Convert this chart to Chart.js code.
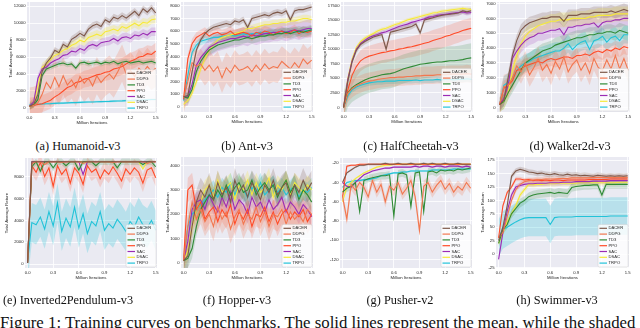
<!DOCTYPE html>
<html>
<head>
<meta charset="utf-8">
<script src="https://cdn.jsdelivr.net/npm/chart.js@4.4.0/dist/chart.umd.min.js"></script>
<style>
  body { margin: 0; width: 640px; height: 328px; background: #fff; overflow: hidden; position: relative; }
  canvas { position: absolute; }
  .cap { position: absolute; font-family: "Liberation Serif", "Times New Roman", serif; font-size: 12.3px; color: #111; white-space: nowrap; transform: translateX(-50%); line-height: 12px; }
  .figcap { position: absolute; left: 0; top: 314px; font-family: "Liberation Serif", "Times New Roman", serif; font-size: 16.8px; color: #111; white-space: nowrap; line-height: 17px; }
</style>
</head>
<body>
<div class="figcap">Figure 1: Training curves on benchmarks. The solid lines represent the mean, while the shaded</div>
<script>
// ---- shared axes / legend data ----
const iters = [0, 0.05, 0.1, 0.15, 0.2, 0.25, 0.3, 0.35, 0.4, 0.45, 0.5, 0.55, 0.6, 0.65, 0.7, 0.75,
  0.8, 0.85, 0.9, 0.95, 1.0, 1.05, 1.1, 1.15, 1.2, 1.25, 1.3, 1.35, 1.4, 1.45, 1.5];
const xTicks = [0, 0.3, 0.6, 0.9, 1.2, 1.5];
const algos = ["DACER", "DDPG", "TD3", "PPO", "SAC", "DSAC", "TRPO"];

// ---- (a) Humanoid-v3 ----
const humanoidDACER = [200, 450, 1600, 4300, 5300, 5900, 6800, 6500, 7500, 7200, 8100, 8400, 8800, 8500, 9300, 9700, 9900, 9600, 10400, 10100, 10700, 10500, 10900, 10600, 11000, 11400, 10900, 11700, 11300, 11800, 11200];
const humanoidDDPG = [200, 300, 600, 1600, 3000, 2300, 3600, 2500, 3800, 2700, 3300, 2400, 3700, 2900, 3500, 2600, 3800, 3000, 3600, 4000, 3400, 4300, 5300, 4000, 4400, 3700, 4700, 4200, 4900, 4300, 4700];
const humanoidTD3 = [200, 300, 1000, 3800, 4600, 4800, 5000, 5200, 5300, 5100, 5200, 4700, 5300, 5400, 5200, 5300, 5400, 5200, 5400, 5300, 5500, 5200, 5400, 5500, 5300, 5400, 5500, 5300, 5400, 5500, 5300];
const humanoidPPO = [200, 300, 400, 500, 700, 900, 1300, 1600, 2000, 2400, 2600, 3000, 3100, 3400, 3500, 3700, 3900, 4000, 4200, 4300, 4600, 4700, 4900, 5200, 5500, 5700, 6000, 6100, 6400, 6300, 6700];
const humanoidSAC = [200, 700, 3500, 4600, 4800, 5300, 5600, 5800, 6200, 6300, 6700, 6600, 7000, 6800, 7300, 7500, 7300, 7700, 7800, 7900, 8200, 7900, 8300, 8400, 8200, 8600, 8500, 8800, 8600, 9000, 9000];
const humanoidDSAC = [200, 500, 2600, 4800, 5200, 5700, 6200, 6400, 6800, 7000, 7400, 7600, 8000, 7800, 8300, 8500, 8700, 8500, 9000, 9100, 9300, 9100, 9600, 9400, 9700, 10000, 9700, 10100, 10000, 10400, 10500];
const humanoidTRPO = [400, 420, 440, 470, 500, 510, 540, 560, 570, 600, 620, 630, 650, 680, 690, 700, 730, 740, 760, 770, 800, 820, 830, 860, 880, 900, 910, 940, 960, 990, 1000];
const humanoidSpread = [400, 2200, 300, 1000, 500, 500, 120];
const humanoidTicks = [0, 2000, 4000, 6000, 8000, 10000, 12000];

// ---- (b) Ant-v3 ----
const antDACER = [800, 900, 2800, 4500, 5300, 5800, 6100, 6300, 6400, 6500, 6600, 6500, 6800, 6700, 6900, 6300, 7000, 7100, 7200, 7300, 7200, 7400, 7500, 7400, 7600, 6900, 7600, 7700, 7700, 7800, 7900];
const antDDPG = [700, 2000, 3500, 3200, 3400, 2900, 3300, 2800, 3200, 2300, 3100, 2700, 3300, 2900, 3000, 3200, 2800, 3300, 2900, 3400, 3000, 3200, 3100, 3600, 3300, 3000, 3500, 3100, 3800, 3400, 3700];
const antTD3 = [800, 700, 1400, 2800, 3600, 4100, 4500, 4700, 4900, 5000, 5100, 5200, 5300, 5300, 5400, 5500, 5400, 5500, 5600, 5600, 5700, 5700, 5800, 5800, 5900, 5800, 5900, 6000, 5900, 6000, 6100];
const antPPO = [600, 3800, 5000, 5500, 5700, 5900, 5600, 5800, 5900, 5700, 5800, 6000, 5700, 5800, 5900, 5800, 5600, 5900, 5800, 6000, 5900, 5700, 5900, 6000, 5800, 5900, 6100, 5800, 6000, 5900, 6000];
const antSAC = [800, 800, 1800, 3300, 3900, 4300, 4700, 4900, 5100, 5200, 5300, 5400, 5400, 5500, 5600, 5500, 5700, 5600, 5700, 5800, 5800, 5900, 5900, 6000, 5900, 6000, 6100, 6000, 6100, 6200, 6200];
const antDSAC = [200, 500, 1100, 2000, 3000, 3800, 4500, 4900, 5300, 5500, 5600, 5700, 5800, 5900, 6000, 6200, 6200, 6300, 6400, 6500, 6500, 6600, 6600, 6700, 6700, 6800, 6800, 6900, 7000, 7000, 6900];
const antTRPO = [500, 2500, 4300, 4900, 5200, 5300, 5400, 5500, 5500, 5600, 5600, 5700, 5600, 5700, 5800, 5700, 5800, 5800, 5900, 5800, 5900, 5900, 5800, 6000, 5900, 6000, 6000, 5900, 6100, 6000, 6100];
const antSpread = [250, 1200, 400, 400, 700, 300, 300];
const antTicks = [0, 1000, 2000, 3000, 4000, 5000, 6000, 7000, 8000];

// ---- (c) HalfCheetah-v3 ----
const cheetahDACER = [0, 4500, 7800, 9800, 10800, 11300, 11700, 12100, 12300, 12500, 10000, 12900, 13100, 13300, 13500, 13700, 13900, 14300, 12800, 15000, 15200, 15400, 15600, 15800, 15900, 16000, 16100, 16200, 16600, 16400, 16600];
const cheetahDDPG = [0, 2400, 3200, 3700, 4000, 4300, 4500, 4600, 4800, 4900, 5000, 5100, 5100, 5200, 5200, 5300, 5300, 5400, 5400, 5500, 5500, 5500, 5600, 5600, 5600, 5700, 5700, 5700, 5700, 5800, 5700];
const cheetahTD3 = [0, 2500, 3400, 3900, 4300, 4700, 5000, 5200, 5400, 5600, 5700, 5800, 6000, 6300, 6600, 6800, 7000, 7200, 7400, 7500, 7600, 7700, 7800, 7800, 7900, 8000, 8000, 8100, 8200, 8400, 8500];
const cheetahPPO = [0, 3000, 5500, 7000, 8000, 8500, 8800, 9000, 9200, 9400, 9500, 9700, 9800, 10000, 10100, 10300, 10400, 10600, 10800, 11000, 11200, 11500, 11700, 11900, 12200, 12400, 12700, 12900, 13200, 13400, 13600];
const cheetahSAC = [0, 4800, 8000, 10000, 11000, 11500, 12000, 12300, 12500, 12800, 13000, 13300, 13600, 13900, 14100, 14300, 14600, 14800, 15000, 15200, 15500, 15600, 15800, 15900, 16000, 16100, 16200, 16300, 16400, 16200, 16300];
const cheetahDSAC = [0, 5000, 8300, 10300, 11300, 11900, 12300, 12700, 13100, 13400, 13600, 13900, 14200, 14400, 14700, 15000, 15200, 15400, 15600, 15800, 16000, 16200, 16300, 16500, 16600, 16700, 16800, 16900, 17000, 16900, 16800];
const cheetahTRPO = [0, 2000, 3000, 3500, 3800, 4000, 4200, 4300, 4400, 4400, 4500, 4500, 4500, 4600, 4600, 4600, 4600, 4700, 4600, 4700, 4700, 4700, 4800, 4700, 4800, 4800, 4700, 4800, 4800, 4900, 4800];
const cheetahSpread = [500, 1500, 2500, 1800, 400, 300, 500];
const cheetahTicks = [0, 2500, 5000, 7500, 10000, 12500, 15000, 17500];

// ---- (d) Walker2d-v3 ----
const walkerDACER = [200, 500, 2000, 3500, 4500, 5200, 5500, 5700, 5800, 5900, 6000, 6000, 6100, 6100, 6100, 5800, 6200, 6200, 6200, 6300, 6300, 6300, 6400, 6400, 6400, 6400, 6500, 6400, 6500, 6600, 6500];
const walkerDDPG = [200, 1400, 1500, 2000, 2800, 2400, 3000, 2200, 2700, 3300, 2500, 2900, 2300, 3100, 2600, 3400, 2400, 2900, 3200, 2500, 3000, 2300, 3300, 2700, 2500, 3200, 2600, 3500, 2600, 3300, 2500];
const walkerTD3 = [200, 400, 1000, 1500, 2000, 2500, 3000, 3200, 3400, 3600, 3800, 3900, 4000, 4200, 4300, 4400, 4500, 4600, 4700, 4700, 4800, 4900, 4900, 5000, 5000, 5100, 5100, 5000, 5200, 5100, 5000];
const walkerPPO = [200, 1300, 1500, 1800, 2500, 2600, 2800, 2900, 3000, 3100, 3000, 3200, 3300, 3200, 3300, 3400, 3400, 3300, 3500, 3500, 3600, 3500, 3700, 3800, 3700, 3900, 3800, 4000, 3900, 4100, 4000];
const walkerSAC = [200, 600, 1500, 3300, 3800, 4200, 4500, 4700, 4800, 5000, 5000, 5100, 5200, 5200, 5300, 4900, 5400, 5400, 5500, 5500, 5600, 5600, 5700, 5400, 5700, 5800, 5800, 5900, 5900, 6000, 6000];
const walkerDSAC = [200, 400, 1000, 2500, 3500, 4300, 4800, 5100, 5300, 5500, 5600, 5700, 5800, 5800, 5900, 5900, 5900, 6000, 6000, 6000, 6000, 6100, 6100, 6200, 6200, 6200, 6200, 6300, 6300, 6300, 6300];
const walkerTRPO = [200, 1500, 1700, 2000, 2500, 2800, 3000, 3100, 3300, 3400, 3500, 3600, 3700, 3800, 3800, 4000, 4300, 3900, 4200, 4400, 4500, 3900, 4500, 4600, 4800, 4400, 4700, 4800, 4500, 4900, 4900];
const walkerSpread = [400, 800, 500, 500, 500, 500, 600];
const walkerTicks = [0, 1000, 2000, 3000, 4000, 5000, 6000, 7000];

// ---- (e) Inverted2Pendulum-v3 ----
const pendDACER = [100, 9360, 9360, 9360, 9360, 9360, 9360, 9360, 9360, 9360, 9360, 9360, 9360, 9360, 9360, 9360, 9360, 9360, 9360, 9360, 9360, 9360, 9360, 9360, 9360, 9360, 9360, 9360, 9360, 9360, 9360];
const pendDDPG = [100, 9200, 9360, 9360, 9100, 9360, 9360, 9360, 9300, 9360, 9360, 9360, 9360, 9200, 9360, 9360, 9360, 9360, 9360, 9360, 9300, 9360, 9360, 9360, 9360, 9360, 9360, 9360, 9200, 9360, 9360];
const pendTD3 = [100, 8900, 9360, 8500, 9360, 9360, 8800, 9360, 9360, 9000, 9360, 9360, 8600, 9360, 9360, 9360, 9000, 9360, 9360, 9360, 9360, 8800, 9360, 9360, 9360, 9360, 9360, 9100, 9360, 9360, 8900];
const pendPPO = [100, 9000, 8400, 9300, 8000, 8800, 7100, 9000, 8200, 8700, 7400, 8800, 8300, 7300, 9000, 8400, 8700, 7800, 8600, 8200, 8900, 8300, 7600, 8700, 8200, 8800, 8400, 7400, 8600, 8800, 7900];
const pendSAC = [100, 9360, 9360, 9360, 9360, 9360, 9360, 9360, 9360, 9360, 9360, 9360, 9360, 8200, 9360, 9360, 9360, 9360, 9360, 9360, 9360, 9360, 9360, 9360, 9360, 9360, 9360, 9360, 9360, 9360, 9360];
const pendDSAC = [100, 9360, 9360, 9360, 9360, 9360, 9360, 9360, 9360, 9360, 9360, 9360, 9360, 9360, 9360, 9360, 9360, 9360, 9360, 9360, 9360, 9360, 9360, 9360, 9360, 9360, 9360, 8700, 9360, 9360, 9360];
const pendTRPO = [200, 3800, 3600, 4300, 3200, 4800, 3500, 5600, 3000, 4200, 3400, 5200, 3300, 4600, 2800, 3900, 3500, 4800, 3100, 3700, 3300, 4100, 3600, 3000, 3900, 3400, 4300, 3600, 3300, 4000, 3100];
const pendSpread = [0, 100, 300, 800, 100, 100, 1800];
const pendTicks = [0, 2000, 4000, 6000, 8000];

// ---- (f) Hopper-v3 ----
const hopperDACER = [100, 300, 1500, 2500, 3000, 2700, 3200, 2600, 3300, 2800, 3100, 2500, 3400, 2900, 3200, 2700, 3300, 3000, 2600, 3200, 2900, 3400, 2800, 3100, 3300, 2700, 3200, 2900, 3400, 3000, 3300];
const hopperDDPG = [100, 1500, 2500, 1800, 2200, 1700, 2000, 1500, 2300, 1800, 2100, 1400, 1900, 2200, 1600, 2000, 1800, 2300, 1700, 2100, 1500, 2000, 1900, 2200, 1600, 2100, 1800, 2000, 1700, 2200, 2000];
const hopperTD3 = [100, 200, 600, 1500, 2200, 2500, 2800, 2600, 3000, 2700, 3200, 2800, 3100, 3300, 2900, 3000, 3400, 2800, 3100, 3300, 3000, 3200, 2700, 3100, 3400, 2900, 3200, 2600, 3000, 2800, 2500];
const hopperPPO = [100, 3000, 3200, 2200, 2500, 1800, 2100, 2300, 1700, 2200, 1900, 2400, 1600, 2100, 1800, 2200, 1500, 2000, 1900, 2300, 1700, 2100, 1600, 2000, 2200, 1800, 2100, 1900, 2200, 1700, 2000];
const hopperSAC = [100, 900, 2200, 2500, 2600, 2200, 2800, 2400, 2100, 2700, 2300, 2900, 2200, 2600, 2400, 2000, 2700, 2300, 2500, 2100, 2600, 2200, 2400, 2700, 2100, 2500, 2300, 2000, 2400, 2200, 1900];
const hopperDSAC = [100, 500, 1500, 2200, 2500, 3000, 3200, 2700, 3400, 2900, 3100, 3300, 2600, 3200, 3000, 3400, 2800, 3300, 2900, 3100, 3500, 2700, 3200, 3000, 3400, 2800, 3300, 3100, 2900, 3200, 3000];
const hopperTRPO = [100, 1500, 2000, 2200, 2400, 2600, 2800, 3000, 2700, 3100, 2900, 3300, 2800, 3200, 3000, 2700, 3100, 2900, 3300, 2800, 3000, 3200, 2900, 3100, 2800, 3000, 3200, 2700, 3000, 2900, 3100];
const hopperSpread = [500, 600, 400, 500, 400, 400, 400];
const hopperTicks = [0, 1000, 2000, 3000, 4000];

// ---- (g) Pusher-v2 ----
const pusherDACER = [-40, -30, -27, -24, -22, -22, -21, -21, -21, -21, -20, -21, -21, -20, -21, -21, -20, -21, -21, -20, -21, -20, -21, -21, -20, -21, -21, -20, -21, -21, -21];
const pusherDDPG = [-55, -78, -42, -48, -40, -45, -55, -38, -50, -42, -60, -44, -48, -40, -52, -46, -38, -55, -90, -44, -40, -50, -43, -38, -47, -41, -50, -44, -48, -40, -46];
const pusherTD3 = [-50, -46, -44, -40, -70, -38, -36, -35, -34, -33, -33, -32, -75, -31, -30, -32, -65, -30, -29, -70, -29, -28, -30, -27, -28, -27, -28, -26, -27, -26, -25];
const pusherPPO = [-55, -23, -22, -22, -21, -21, -21, -21, -21, -21, -21, -21, -21, -21, -21, -21, -21, -21, -21, -21, -21, -21, -21, -21, -21, -21, -21, -21, -21, -21, -21];
const pusherSAC = [-40, -44, -45, -40, -36, -32, -30, -28, -27, -26, -25, -25, -24, -24, -24, -24, -24, -23, -24, -23, -23, -24, -23, -23, -24, -23, -23, -23, -24, -23, -24];
const pusherDSAC = [-60, -45, -40, -36, -33, -30, -28, -26, -24, -23, -22, -22, -21, -21, -21, -21, -21, -21, -21, -21, -21, -21, -21, -21, -21, -21, -21, -21, -21, -21, -21];
const pusherTRPO = [-45, -40, -39, -38, -38, -37, -37, -36, -35, -33, -32, -31, -30, -30, -29, -29, -28, -28, -28, -28, -28, -27, -27, -27, -27, -27, -26, -26, -26, -26, -26];
const pusherSpread = [1, 6, 4, 1, 1, 1, 1];
const pusherTicks = [-120, -100, -80, -60, -40, -20];

// ---- (h) Swimmer-v3 ----
const swimmerDACER = [25, 50, 90, 145, 155, 158, 156, 153, 152, 150, 151, 149, 148, 150, 148, 147, 149, 147, 148, 146, 147, 146, 145, 147, 146, 145, 146, 145, 146, 145, 146];
const swimmerDDPG = [30, 40, 70, 100, 120, 130, 135, 137, 138, 139, 139, 140, 140, 140, 141, 141, 141, 142, 142, 142, 142, 142, 143, 143, 143, 143, 143, 143, 143, 143, 143];
const swimmerTD3 = [20, 45, 55, 75, 85, 95, 100, 107, 110, 112, 113, 114, 115, 113, 115, 114, 113, 124, 126, 127, 128, 128, 129, 129, 110, 130, 130, 130, 130, 130, 130];
const swimmerPPO = [30, 90, 115, 125, 140, 140, 138, 139, 137, 138, 137, 138, 137, 138, 138, 137, 138, 138, 138, 138, 138, 139, 139, 139, 139, 139, 140, 140, 140, 140, 140];
const swimmerSAC = [-10, 40, 80, 110, 125, 128, 130, 131, 131, 132, 132, 132, 133, 133, 133, 134, 134, 134, 135, 135, 135, 135, 136, 136, 136, 136, 137, 137, 137, 137, 137];
const swimmerDSAC = [20, 40, 60, 75, 90, 110, 120, 130, 129, 130, 130, 131, 131, 131, 132, 132, 132, 132, 132, 133, 133, 133, 133, 133, 133, 133, 133, 133, 134, 134, 134];
const swimmerTRPO = [30, 45, 50, 55, 60, 64, 67, 68, 68, 68, 68, 68, 55, 68, 69, 69, 69, 69, 70, 70, 70, 70, 70, 70, 70, 70, 71, 71, 71, 71, 71];
const swimmerSpread = [5, 5, 8, 4, 5, 5, 35];
const swimmerTicks = [-25, 0, 25, 50, 75, 100, 125, 150, 175];

// ---- styling ----
const colors = ["#7d5849", "#f2774f", "#2f8a35", "#ff4b28", "#9b2cb5", "#f6e93a", "#22c3d8"];
const bandColors = ["rgba(125,88,73,0.22)", "rgba(242,119,79,0.22)", "rgba(47,138,53,0.18)", "rgba(255,75,40,0.18)",
  "rgba(155,44,181,0.18)", "rgba(246,233,58,0.25)", "rgba(34,195,216,0.25)"];
const tickFont = { family: "'Liberation Sans', Arial, sans-serif", size: 4.2 };
const textColor = "#262626";

const panels = [
  { cap: "(a) Humanoid-v3", capX: 78, capY: 140, series: [humanoidDACER, humanoidDDPG, humanoidTD3, humanoidPPO, humanoidSAC, humanoidDSAC, humanoidTRPO],
    spread: humanoidSpread, yTicks: humanoidTicks, yMin: -600, yMax: 12500, left: 0.5, top: 0, plotRight: 156.5, titleOff: 9.5, padTop: 2, h: 128 },
  { cap: "(b) Ant-v3", capX: 247, capY: 140, series: [antDACER, antDDPG, antTD3, antPPO, antSAC, antDSAC, antTRPO],
    spread: antSpread, yTicks: antTicks, yMin: -400, yMax: 8300, left: 155, top: 0, plotRight: 313, titleOff: 12.3, padTop: 2, h: 127 },
  { cap: "(c) HalfCheetah-v3", capX: 411, capY: 140, series: [cheetahDACER, cheetahDDPG, cheetahTD3, cheetahPPO, cheetahSAC, cheetahDSAC, cheetahTRPO],
    spread: cheetahSpread, yTicks: cheetahTicks, yMin: -800, yMax: 18100, left: 315, top: 0, plotRight: 472.5, titleOff: 10, padTop: 2, h: 127 },
  { cap: "(d) Walker2d-v3", capX: 570, capY: 140, series: [walkerDACER, walkerDDPG, walkerTD3, walkerPPO, walkerSAC, walkerDSAC, walkerTRPO],
    spread: walkerSpread, yTicks: walkerTicks, yMin: -300, yMax: 7100, left: 471, top: 0, plotRight: 629.5, titleOff: 11.7, padTop: 2, h: 127 },
  { cap: "(e) Inverted2Pendulum-v3", capX: 68, capY: 294, series: [pendDACER, pendDDPG, pendTD3, pendPPO, pendSAC, pendDSAC, pendTRPO],
    spread: pendSpread, yTicks: pendTicks, yMin: -350, yMax: 9700, left: -1, top: 150, plotRight: 157, titleOff: 7.7, padTop: 8, h: 133 },
  { cap: "(f) Hopper-v3", capX: 237, capY: 294, series: [hopperDACER, hopperDDPG, hopperTD3, hopperPPO, hopperSAC, hopperDSAC, hopperTRPO],
    spread: hopperSpread, yTicks: hopperTicks, yMin: -200, yMax: 4350, left: 155, top: 150, plotRight: 313, titleOff: 13.3, padTop: 7, h: 133 },
  { cap: "(g) Pusher-v2", capX: 400, capY: 294, series: [pusherDACER, pusherDDPG, pusherTD3, pusherPPO, pusherSAC, pusherDSAC, pusherTRPO],
    spread: pusherSpread, yTicks: pusherTicks, yMin: -129, yMax: -14.5, left: 314, top: 150, plotRight: 472, titleOff: 11, padTop: 8, h: 133 },
  { cap: "(h) Swimmer-v3", capX: 557, capY: 294, series: [swimmerDACER, swimmerDDPG, swimmerTD3, swimmerPPO, swimmerSAC, swimmerDSAC, swimmerTRPO],
    spread: swimmerSpread, yTicks: swimmerTicks, yMin: -26, yMax: 181, left: 470, top: 150, plotRight: 629, titleOff: 13.3, padTop: 7, h: 133 },
];

// seaborn-style grey plot background
const plotBackground = {
  id: "plotBackground",
  beforeDraw(chart) {
    const { ctx, chartArea: a } = chart;
    ctx.save();
    ctx.fillStyle = "#eaeaf2";
    ctx.fillRect(a.left, a.top, a.right - a.left, a.bottom - a.top);
    ctx.restore();
  },
};

// legend box sitting inside the plot, lower right
const insideLegend = {
  id: "insideLegend",
  afterDatasetsDraw(chart) {
    const { ctx, chartArea: a } = chart;
    const rowH = 5.8, w = 30, h = rowH * algos.length + 2;
    const x0 = a.right - w - 1, y0 = a.bottom - h - 1;
    ctx.save();
    ctx.fillStyle = "rgba(255,255,255,0.8)";
    ctx.strokeStyle = "#cccccc";
    ctx.lineWidth = 0.5;
    ctx.beginPath();
    ctx.roundRect(x0, y0, w, h, 1.5);
    ctx.fill();
    ctx.stroke();
    ctx.font = `${tickFont.size}px ${tickFont.family}`;
    ctx.textBaseline = "middle";
    algos.forEach((name, i) => {
      const y = y0 + 1 + rowH * (i + 0.5);
      ctx.strokeStyle = colors[i];
      ctx.lineWidth = 1.2;
      ctx.beginPath();
      ctx.moveTo(x0 + 1.5, y);
      ctx.lineTo(x0 + 9, y);
      ctx.stroke();
      ctx.fillStyle = textColor;
      ctx.fillText(name, x0 + 10.5, y);
    });
    ctx.restore();
  },
};

function buildDatasets(p) {
  const bands = [];
  const lines = [];
  p.series.forEach((vals, i) => {
    const s = p.spread[i];
    bands.push({
      data: iters.map((x, k) => ({ x, y: vals[k] + s })),
      borderWidth: 0, pointRadius: 0, backgroundColor: bandColors[i], fill: "+1", order: 1,
    });
    bands.push({
      data: iters.map((x, k) => ({ x, y: vals[k] - s })),
      borderWidth: 0, pointRadius: 0, fill: false, order: 1,
    });
    lines.push({
      label: algos[i],
      data: iters.map((x, k) => ({ x, y: vals[k] })),
      borderColor: colors[i], borderWidth: 1.1, pointRadius: 0, fill: false, order: 0,
    });
  });
  return lines.concat(bands);
}

panels.forEach((p) => {
  const canvas = document.createElement("canvas");
  const w = p.plotRight - p.left + 4;
  canvas.width = Math.round(w);
  canvas.height = p.h;
  canvas.style.left = p.left + "px";
  canvas.style.top = p.top + "px";
  document.body.appendChild(canvas);

  const cap = document.createElement("div");
  cap.className = "cap";
  cap.textContent = p.cap;
  cap.style.left = p.capX + "px";
  cap.style.top = p.capY + "px";
  document.body.appendChild(cap);

  new Chart(canvas, {
    type: "line",
    data: { datasets: buildDatasets(p) },
    options: {
      responsive: false,
      animation: false,
      layout: { padding: { top: p.padTop, right: canvas.width - (p.plotRight - p.left), left: 0, bottom: 0 } },
      plugins: { legend: { display: false }, tooltip: { enabled: false } },
      scales: {
        x: {
          type: "linear", min: -0.03, max: 1.515,
          grid: { color: "#ffffff", lineWidth: 0.8, drawTicks: false },
          border: { display: false },
          ticks: { font: tickFont, color: textColor, padding: 2.4, maxRotation: 0, callback: (v) => v.toFixed(1) },
          title: { display: true, text: "Million Iterations", font: { ...tickFont, size: 4.3 }, color: textColor, padding: { top: 0, bottom: 2.4 } },
          afterBuildTicks: (s) => { s.ticks = xTicks.map((v) => ({ value: v })); },
          afterFit: (s) => { s.height = 15; s.paddingLeft = 0; s.paddingRight = 0; },
        },
        y: {
          min: p.yMin, max: p.yMax,
          grid: { color: "#ffffff", lineWidth: 0.8, drawTicks: false },
          border: { display: false },
          ticks: { font: tickFont, color: textColor, padding: 1.5, callback: (v) => String(v) },
          title: { display: true, text: "Total Average Return", font: { ...tickFont, size: 4.3 }, color: textColor, padding: { top: p.titleOff - 2.6, bottom: 0 } },
          afterBuildTicks: (s) => { s.ticks = p.yTicks.map((v) => ({ value: v })); },
          afterFit: (s) => { s.width = 26; s.paddingTop = 0; s.paddingBottom = 0; },
        },
      },
    },
    plugins: [plotBackground, insideLegend],
  });
});
</script>
</body>
</html>
